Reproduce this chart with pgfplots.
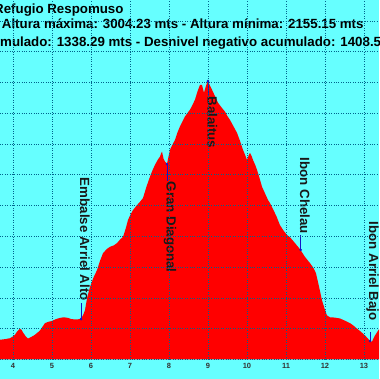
\documentclass[border=0pt]{standalone}
\usepackage{fontspec}
\setmainfont{Liberation Sans}
\usepackage{pgfplots}
\pgfplotsset{compat=1.18}
\definecolor{bgc}{RGB}{102,255,255}
\definecolor{gridc}{RGB}{0,100,140}
\definecolor{prof}{RGB}{255,0,0}
\definecolor{wp}{RGB}{20,20,200}
\begin{document}
\begin{tikzpicture}
\path[use as bounding box] (0pt,-19.55pt) rectangle (379pt,359.45pt);
\clip (0pt,-19.55pt) rectangle (379pt,359.45pt);
\fill[bgc] (0pt,-19.55pt) rectangle (379pt,359.45pt);
\tikzset{ttl/.style={inner sep=0pt, font=\bfseries\fontsize{13.3}{15}\selectfont}}
\node[ttl, anchor=north west] at (-6pt,355.6pt) {Refugio Respomuso};
\node[ttl, anchor=north west] at (1.7pt,340.6pt) {Altura máxima: 3004.23 mts - Altura mínima: 2155.15 mts};
\node[ttl, anchor=base east] at (0pt,312.45pt) {Desnivel positivo acu};
\node[ttl, anchor=base west] at (0pt,312.45pt) {mulado: 1338.29 mts - Desnivel negativo acumulado: 1408.52 mts};
\begin{axis}[at={(0pt,0pt)}, anchor=south west, scale only axis,
  width=379pt, height=359.45pt,
  xmin=3.667, xmax=13.385, ymin=2100, ymax=3267.5,
  axis line style={draw=none}, major tick length=0pt,
  xtick={4,...,13}, ytick={2100,2200,...,3200}, yticklabels={},
  grid=major, grid style={gridc, dotted, line width=0.45pt},
  axis on top,
  xticklabel style={font=\bfseries\fontsize{7.5}{8}\selectfont, text=black!80},
  /pgf/number format/assume math mode=true,
  clip=false]
\addplot[fill=prof, draw=none] coordinates {
(3.667,2100) (3.667,2164) (3.80,2166) (3.923,2169) (4.000,2175) (4.05,2180) (4.103,2190) (4.179,2200) (4.22,2196) (4.256,2188) (4.32,2176) (4.385,2168) (4.45,2172) (4.539,2178) (4.62,2186) (4.692,2194) (4.75,2205) (4.821,2218) (4.90,2222) (5.000,2225) (5.10,2231) (5.205,2235) (5.30,2237) (5.41,2235) (5.50,2231) (5.59,2230) (5.744,2231) (5.80,2245) (5.846,2260) (5.90,2300) (5.974,2335) (6.06,2365) (6.154,2390) (6.23,2420) (6.308,2445) (6.40,2458) (6.487,2466) (6.58,2470) (6.667,2478) (6.75,2490) (6.821,2498) (6.89,2525) (6.949,2553) (7.01,2570) (7.077,2585) (7.17,2600) (7.256,2612) (7.333,2624) (7.42,2660) (7.513,2694) (7.58,2715) (7.641,2732) (7.71,2748) (7.769,2759) (7.80,2770) (7.821,2775) (7.86,2752) (7.897,2743) (7.949,2735) (7.99,2760) (8.026,2781) (8.09,2798) (8.154,2813) (8.22,2838) (8.282,2857) (8.35,2874) (8.41,2889) (8.47,2900) (8.538,2911) (8.60,2926) (8.667,2944) (8.73,2970) (8.795,2992) (8.846,2992) (8.897,2966) (8.94,2985) (8.974,2998) (9.0,3004) (9.05,2990) (9.103,2976) (9.18,2955) (9.256,2934) (9.35,2918) (9.436,2905) (9.50,2890) (9.564,2878) (9.65,2858) (9.744,2836) (9.82,2810) (9.897,2781) (9.95,2765) (10.0,2748) (10.05,2765) (10.077,2771) (10.12,2760) (10.154,2748) (10.21,2732) (10.256,2716) (10.32,2690) (10.385,2661) (10.46,2640) (10.538,2618) (10.59,2608) (10.68,2585) (10.762,2563) (10.846,2536) (10.94,2518) (11.026,2504) (11.103,2497) (11.23,2478) (11.359,2458) (11.487,2433) (11.615,2413) (11.70,2398) (11.769,2380) (11.85,2335) (11.923,2292) (11.99,2265) (12.051,2243) (12.128,2237) (12.25,2236) (12.385,2233) (12.51,2226) (12.641,2218) (12.73,2210) (12.821,2200) (12.92,2190) (13.026,2178) (13.10,2168) (13.154,2160) (13.205,2158) (13.25,2170) (13.282,2178) (13.385,2198) (13.385,2100)};
\draw[wp, line width=0.6pt] (axis cs:5.744,2231) -- (axis cs:5.744,2284);
\draw[wp, line width=0.6pt] (axis cs:7.949,2735) -- (axis cs:7.949,2678);
\draw[wp, line width=0.6pt] (axis cs:9.0,3004) -- (axis cs:9.0,2955);
\draw[wp, line width=0.6pt] (axis cs:11.377,2456) -- (axis cs:11.377,2505);
\draw[wp, line width=0.6pt] (axis cs:13.154,2160) -- (axis cs:13.154,2190);
\addplot[only marks, mark=*, mark size=1.1pt, wp] coordinates {(5.744,2231) (7.949,2735) (9.0,3004) (11.377,2456) (13.154,2160)};
\tikzset{lbl/.style={rotate=-90, anchor=base west, inner sep=0pt, font=\bfseries\fontsize{13.3}{15}\selectfont, text=black!90}}
\node[lbl] at (axis cs:5.72,2690) {Embalse Arriel Alto};
\node[lbl] at (axis cs:7.94,2678) {Gran Diagonal};
\node[lbl] at (axis cs:8.99,2955) {Balaitus};
\node[lbl] at (axis cs:11.36,2755) {Ibon Chelau};
\node[lbl] at (axis cs:13.13,2548) {Ibon Arriel Bajo};
\end{axis}
\end{tikzpicture}
\end{document}
